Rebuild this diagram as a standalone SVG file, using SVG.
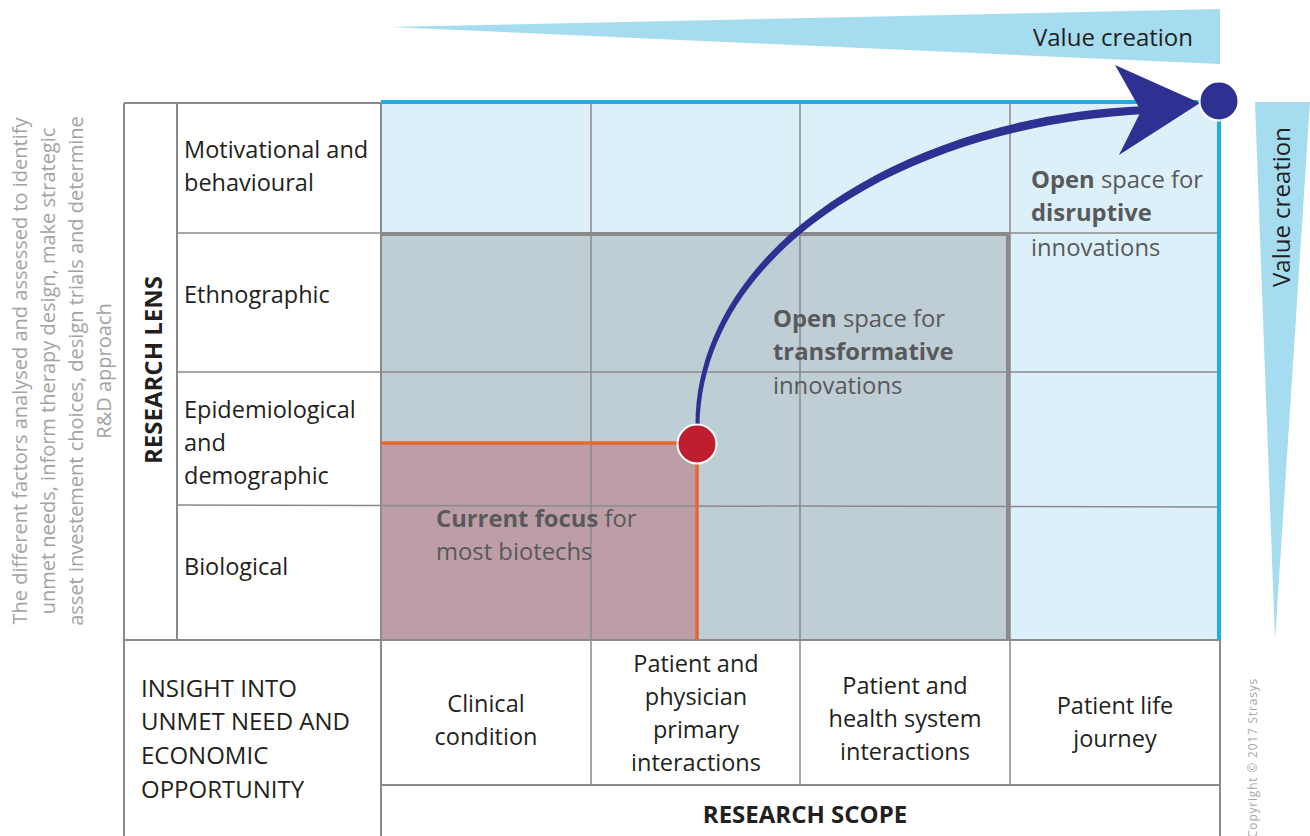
<svg xmlns="http://www.w3.org/2000/svg" width="1310" height="836" viewBox="0 0 1310 836">
<style>
text{font-family:"Open Sans","Liberation Sans",sans-serif;}
.lbl{font-size:23.5px;fill:#231f20;}
.big{font-size:24px;fill:#231f20;}
.ctr{text-anchor:middle;}
.note{font-size:23.8px;fill:#58595b;}
.b{font-weight:bold;}
.side{font-size:20px;fill:#a3a3a3;text-anchor:middle;}
.grid{stroke:#8a8a8c;stroke-width:1.5;fill:none;}
.frame{stroke:#8a8a8c;stroke-width:2;fill:none;}
</style>
<rect width="1310" height="836" fill="#ffffff"/>
<g id="value-top">
<polygon points="390,27 1220,9 1220,64" fill="#a5dcef"/>
<text class="big" x="1193" y="46" text-anchor="end">Value creation</text>
</g>
<g id="value-right">
<polygon points="1255,102 1310,102 1275,640" fill="#a5dcef"/>
<text class="big ctr" transform="translate(1290,207) rotate(-90)">Value creation</text>
</g>
<g id="side-note">
<text class="side" transform="translate(27,371) rotate(-90)">The different factors analysed and assessed to identify</text>
<text class="side" transform="translate(55,371) rotate(-90)">unmet needs, inform therapy design, make strategic</text>
<text class="side" transform="translate(83,371) rotate(-90)">asset investement choices, design trials and determine</text>
<text class="side" transform="translate(111,371) rotate(-90)">R&amp;D approach</text>
</g>
<g id="regions">
<rect id="disruptive-region" x="381" y="103" width="839" height="537" fill="#dcf0f9"/>
<rect id="transformative-region" x="381" y="234" width="628" height="406" fill="#bfcdd4"/>
<rect id="current-region" x="381" y="443" width="316" height="197" fill="#bd9ea6"/>
</g>
<g id="grid">
<line class="grid" x1="177" y1="233" x2="1220" y2="233"/>
<line class="grid" x1="177" y1="372" x2="1220" y2="372"/>
<line class="grid" x1="177" y1="505" x2="1220" y2="507"/>
<line class="grid" x1="591" y1="103" x2="591" y2="785"/>
<line class="grid" x1="800" y1="103" x2="800" y2="785"/>
<line class="grid" x1="1010" y1="103" x2="1010" y2="785"/>
<line class="frame" x1="124" y1="103" x2="381" y2="103"/>
<line class="frame" x1="124" y1="103" x2="124" y2="836"/>
<line class="frame" x1="177" y1="103" x2="177" y2="640"/>
<line class="frame" x1="381" y1="103" x2="381" y2="836"/>
<line class="frame" x1="124" y1="640" x2="1220" y2="640"/>
<line class="frame" x1="381" y1="785" x2="1220" y2="785"/>
<line class="frame" x1="1220" y1="640" x2="1220" y2="836"/>
</g>
<g id="borders">
<polyline points="381,234 1008,234 1008,640" fill="none" stroke="#8a8a8c" stroke-width="4"/>
<polyline points="381,102 1219,102 1219,640" fill="none" stroke="#1fabe5" stroke-width="4"/>
<polyline points="381,443 697,443 697,640" fill="none" stroke="#e8672c" stroke-width="3.5"/>
</g>
<g id="row-labels">
<text class="lbl" x="184" y="158">Motivational and</text>
<text class="lbl" x="184" y="191">behavioural</text>
<text class="lbl" x="184" y="303">Ethnographic</text>
<text class="lbl" x="184" y="418">Epidemiological</text>
<text class="lbl" x="184" y="451">and</text>
<text class="lbl" x="184" y="484">demographic</text>
<text class="lbl" x="184" y="575">Biological</text>
</g>
<g id="research-lens">
<text class="big ctr b" transform="translate(162,370) rotate(-90)">RESEARCH LENS</text>
</g>
<g id="insight">
<text class="big" x="141" y="697">INSIGHT INTO</text>
<text class="big" x="141" y="730">UNMET NEED AND</text>
<text class="big" x="141" y="764">ECONOMIC</text>
<text class="big" x="141" y="798">OPPORTUNITY</text>
</g>
<g id="col-clinical">
<text class="lbl ctr" x="486" y="712">Clinical</text>
<text class="lbl ctr" x="486" y="745">condition</text>
</g>
<g id="col-physician">
<text class="lbl ctr" x="696" y="672">Patient and</text>
<text class="lbl ctr" x="696" y="705">physician</text>
<text class="lbl ctr" x="696" y="738">primary</text>
<text class="lbl ctr" x="696" y="771">interactions</text>
</g>
<g id="col-health">
<text class="lbl ctr" x="905" y="694">Patient and</text>
<text class="lbl ctr" x="905" y="727">health system</text>
<text class="lbl ctr" x="905" y="760">interactions</text>
</g>
<g id="col-journey">
<text class="lbl ctr" x="1115" y="714">Patient life</text>
<text class="lbl ctr" x="1115" y="747">journey</text>
</g>
<g id="research-scope">
<text class="big ctr b" x="805" y="823">RESEARCH SCOPE</text>
</g>
<g id="note-current">
<text class="note" x="436" y="527"><tspan class="b">Current focus</tspan> for</text>
<text class="note" x="436" y="560">most biotechs</text>
</g>
<g id="note-transformative">
<text class="note" x="773" y="327"><tspan class="b">Open</tspan> space for</text>
<text class="note b" x="773" y="360">transformative</text>
<text class="note" x="773" y="394">innovations</text>
</g>
<g id="note-disruptive">
<text class="note" x="1031" y="188"><tspan class="b">Open</tspan> space for</text>
<text class="note b" x="1031" y="221">disruptive</text>
<text class="note" x="1031" y="256">innovations</text>
</g>
<g id="connectors">
<path d="M695.5,425 C696,250 900,116 1145,106 L1146,114 C905,126 703,252 699.5,425 Z" fill="#2e3192"/>
<polygon points="1200,103 1115,65 1141,111 1119,155" fill="#2e3192"/>
</g>
<g id="current-dot">
<circle cx="697" cy="444" r="19.5" fill="#be1e2d" stroke="#ffffff" stroke-width="2"/>
</g>
<g id="target-dot">
<circle cx="1219" cy="101" r="19.5" fill="#2e3192" stroke="#ffffff" stroke-width="2"/>
</g>
<g id="copyright">
<text transform="translate(1257,838) rotate(-90)" style="font-size:12px;fill:#a8a8a8;letter-spacing:0.8px">Copyright © 2017 Strasys</text>
</g>
</svg>
